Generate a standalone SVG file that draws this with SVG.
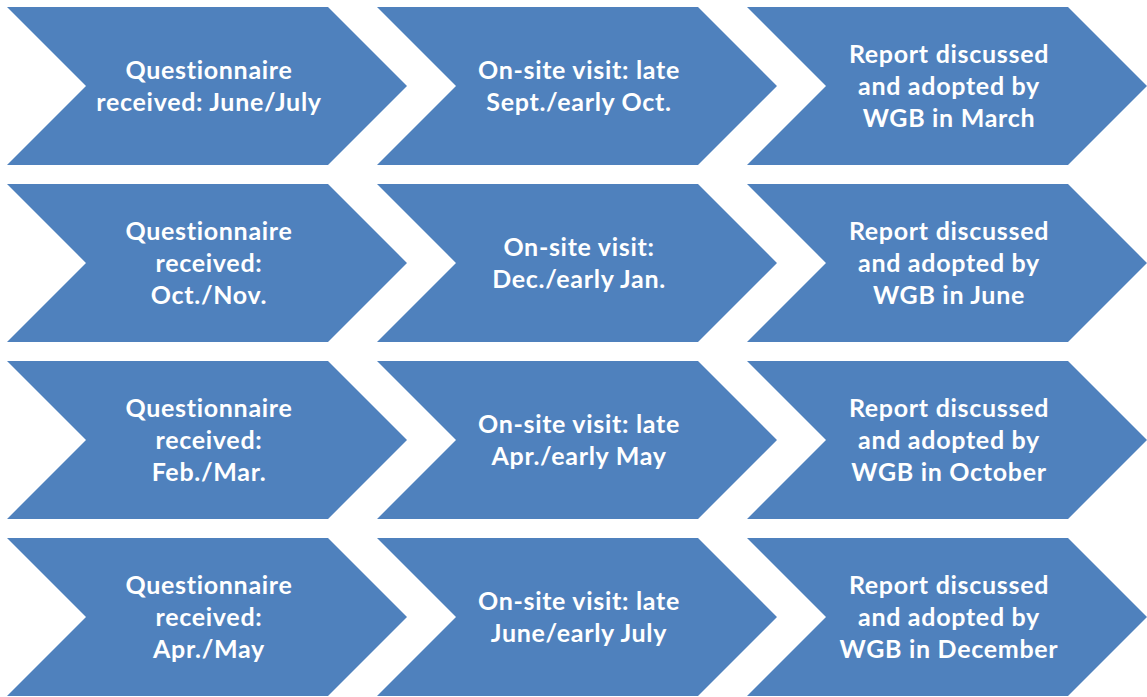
<svg xmlns="http://www.w3.org/2000/svg" xmlns:xlink="http://www.w3.org/1999/xlink" width="1147" height="697" viewBox="0 0 1147 697">
<style>
.chev{fill:#4F81BD;}
.t{font-family:Lato,"Open Sans","Liberation Sans",sans-serif;font-weight:bold;font-size:25px;letter-spacing:0.7px;fill:#FFFFFF;text-anchor:middle;}
</style>
<defs>
<path id="chev" class="chev" d="M0,0 H321 L400,79 L321,158 H0 L79,79 Z"/>
</defs>
<rect width="1147" height="697" fill="#FFFFFF"/>
<g id="connectors"></g>
<g id="r1c1" transform="translate(7,7)"><use xlink:href="#chev"/><text class="t" x="202"><tspan x="202" y="72">Questionnaire</tspan><tspan x="202" y="104">received: June/July</tspan></text></g>
<g id="r1c2" transform="translate(377,7)"><use xlink:href="#chev"/><text class="t" x="202"><tspan x="202" y="72">On-site visit: late</tspan><tspan x="202" y="104">Sept./early Oct.</tspan></text></g>
<g id="r1c3" transform="translate(747,7)"><use xlink:href="#chev"/><text class="t" x="202"><tspan x="202" y="56">Report discussed</tspan><tspan x="202" y="88">and adopted by</tspan><tspan x="202" y="120">WGB in March</tspan></text></g>

<g id="r2c1" transform="translate(7,184)"><use xlink:href="#chev"/><text class="t" x="202"><tspan x="202" y="56">Questionnaire</tspan><tspan x="202" y="88">received:</tspan><tspan x="202" y="120">Oct./Nov.</tspan></text></g>
<g id="r2c2" transform="translate(377,184)"><use xlink:href="#chev"/><text class="t" x="202"><tspan x="202" y="72">On-site visit:</tspan><tspan x="202" y="104">Dec./early Jan.</tspan></text></g>
<g id="r2c3" transform="translate(747,184)"><use xlink:href="#chev"/><text class="t" x="202"><tspan x="202" y="56">Report discussed</tspan><tspan x="202" y="88">and adopted by</tspan><tspan x="202" y="120">WGB in June</tspan></text></g>

<g id="r3c1" transform="translate(7,361)"><use xlink:href="#chev"/><text class="t" x="202"><tspan x="202" y="56">Questionnaire</tspan><tspan x="202" y="88">received:</tspan><tspan x="202" y="120">Feb./Mar.</tspan></text></g>
<g id="r3c2" transform="translate(377,361)"><use xlink:href="#chev"/><text class="t" x="202"><tspan x="202" y="72">On-site visit: late</tspan><tspan x="202" y="104">Apr./early May</tspan></text></g>
<g id="r3c3" transform="translate(747,361)"><use xlink:href="#chev"/><text class="t" x="202"><tspan x="202" y="56">Report discussed</tspan><tspan x="202" y="88">and adopted by</tspan><tspan x="202" y="120">WGB in October</tspan></text></g>

<g id="r4c1" transform="translate(7,538)"><use xlink:href="#chev"/><text class="t" x="202"><tspan x="202" y="56">Questionnaire</tspan><tspan x="202" y="88">received:</tspan><tspan x="202" y="120">Apr./May</tspan></text></g>
<g id="r4c2" transform="translate(377,538)"><use xlink:href="#chev"/><text class="t" x="202"><tspan x="202" y="72">On-site visit: late</tspan><tspan x="202" y="104">June/early July</tspan></text></g>
<g id="r4c3" transform="translate(747,538)"><use xlink:href="#chev"/><text class="t" x="202"><tspan x="202" y="56">Report discussed</tspan><tspan x="202" y="88">and adopted by</tspan><tspan x="202" y="120">WGB in December</tspan></text></g>
</svg>
